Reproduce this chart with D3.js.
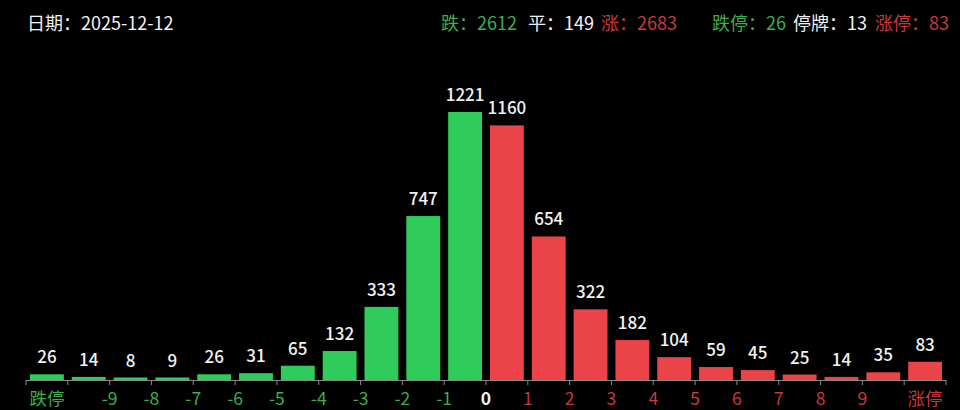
<!DOCTYPE html>
<html><head><meta charset="utf-8">
<script src="https://cdn.jsdelivr.net/npm/d3@7"></script>
<style>
html,body{margin:0;padding:0;background:#000;}
svg{display:block;}
text{font-family:"Noto Sans CJK SC","Noto Sans",sans-serif;}
</style></head>
<body>
<svg id="chart" width="960" height="410"></svg>
<script>
// ---- data ----
const dateLabel = "日期：2025-12-12";
const categories = ["跌停","-10~-9","-9~-8","-8~-7","-7~-6","-6~-5","-5~-4","-4~-3","-3~-2","-2~-1","-1~0",
                    "0~1","1~2","2~3","3~4","4~5","5~6","6~7","7~8","8~9","9~10","涨停"];
const values = [26,14,8,9,26,31,65,132,333,747,1221,1160,654,322,182,104,59,45,25,14,35,83];
const sides = ["down","down","down","down","down","down","down","down","down","down","down",
               "up","up","up","up","up","up","up","up","up","up","up"];
// tick labels at band boundaries (index of boundary) and band-centred end labels
const boundaryLabels = [
  {i:2,t:"-9",s:"down"},{i:3,t:"-8",s:"down"},{i:4,t:"-7",s:"down"},{i:5,t:"-6",s:"down"},{i:6,t:"-5",s:"down"},
  {i:7,t:"-4",s:"down"},{i:8,t:"-3",s:"down"},{i:9,t:"-2",s:"down"},{i:10,t:"-1",s:"down"},
  {i:11,t:"0",s:"flat"},
  {i:12,t:"1",s:"up"},{i:13,t:"2",s:"up"},{i:14,t:"3",s:"up"},{i:15,t:"4",s:"up"},{i:16,t:"5",s:"up"},
  {i:17,t:"6",s:"up"},{i:18,t:"7",s:"up"},{i:19,t:"8",s:"up"},{i:20,t:"9",s:"up"}
];
const endLabels = [{c:"跌停",t:"跌停",s:"down"},{c:"涨停",t:"涨停",s:"up"}];
const summaryLabels = ["跌：","平：","涨：","跌停：","停牌：","涨停："];
const summaryValues = [2612,149,2683,26,13,83];
const summarySides = ["down","flat","up","down","flat","up"];

// ---- styles ----
const barColor = {down:"#2fcb5b", up:"#ea4449"};
const textColor = {down:"#3dae4b", up:"#c9383a", flat:"#f2f2f2"};

const svg = d3.select("#chart");
const W = 960, H = 410;
const margin = {left:26, right:14, baseline:380};
const topY = 112;

const x = d3.scaleBand().domain(categories).range([margin.left, W - margin.right]).paddingInner(0.19).paddingOuter(0.095);
const step = x.step();
const x0 = x.range()[0];
const y = d3.scaleLinear().domain([0, d3.max(values)]).range([margin.baseline, topY]);
const barTop = d => Math.min(y(d), margin.baseline - 2.5);

// bars
svg.append("g").selectAll("rect").data(values).join("rect")
  .attr("x", (d,i)=>x(categories[i]))
  .attr("width", x.bandwidth())
  .attr("y", d=>barTop(d))
  .attr("height", d=>margin.baseline - barTop(d))
  .attr("fill", (d,i)=>barColor[sides[i]]);

// value labels
svg.append("g").selectAll("text").data(values).join("text")
  .attr("x", (d,i)=>x(categories[i]) + x.bandwidth()/2)
  .attr("y", d=>barTop(d) - 11)
  .attr("text-anchor","middle")
  .attr("fill","#f2f2f2")
  .attr("font-size",17)
  .attr("font-weight",500)
  .text(d=>d);

// axis line + ticks
const axisG = svg.append("g");
axisG.append("line").attr("x1", x0).attr("x2", W - margin.right)
  .attr("y1", margin.baseline+0.5).attr("y2", margin.baseline+0.5)
  .attr("stroke","#8a8a8a").attr("stroke-width",1);
axisG.selectAll("line.tick").data(d3.range(categories.length+1)).join("line")
  .attr("class","tick")
  .attr("x1", i=>x0 + i*step).attr("x2", i=>x0 + i*step)
  .attr("y1", margin.baseline).attr("y2", margin.baseline+5)
  .attr("stroke","#8a8a8a").attr("stroke-width",1);

// boundary tick labels
axisG.selectAll("text.b").data(boundaryLabels).join("text")
  .attr("class","b")
  .attr("x", d=>x0 + d.i*step)
  .attr("y", 405)
  .attr("text-anchor","middle")
  .attr("font-size",17.5)
  .attr("font-weight", d=>d.s==="flat"?700:400)
  .attr("fill", d=>textColor[d.s])
  .text(d=>d.t);
axisG.selectAll("text.e").data(endLabels).join("text")
  .attr("class","e")
  .attr("x", d=>x(d.c) + x.bandwidth()/2)
  .attr("y", 405)
  .attr("text-anchor","middle")
  .attr("font-size",17.5)
  .attr("fill", d=>textColor[d.s])
  .text(d=>d.t);

// header
svg.append("text").attr("x",27).attr("y",30).attr("font-size",18).attr("fill","#f2f2f2").text(dateLabel);
const sumX = [441, 528, 601, 712, 793, 875];
const hdr = svg.append("g");
summaryLabels.forEach((lab,i)=>{
  hdr.append("text").attr("x",sumX[i]).attr("y",30).attr("font-size",18)
    .attr("fill", textColor[summarySides[i]])
    .text(lab + summaryValues[i]);
});
</script>
</body></html>
